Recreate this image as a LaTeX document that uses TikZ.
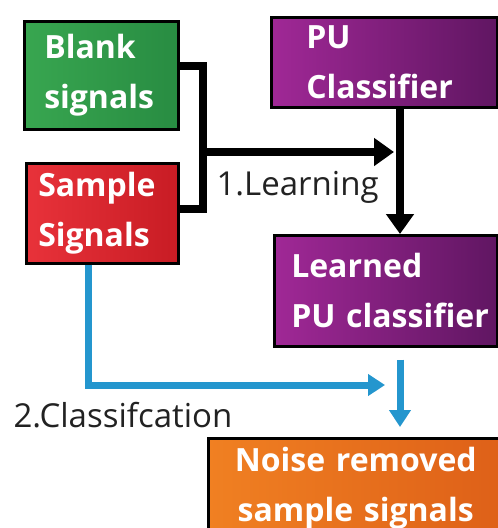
\documentclass[tikz,border=0pt]{standalone}
\usepackage{fontspec}
\setmainfont{Open Sans}
\usetikzlibrary{arrows.meta}
\definecolor{blankgreenl}{RGB}{56,166,80}
\definecolor{blankgreenr}{RGB}{40,140,66}
\definecolor{sampleredl}{RGB}{232,50,58}
\definecolor{sampleredr}{RGB}{200,28,36}
\definecolor{pupurplel}{RGB}{160,40,150}
\definecolor{pupurpler}{RGB}{96,22,98}
\definecolor{noiseorangel}{RGB}{240,128,34}
\definecolor{noiseoranger}{RGB}{222,96,24}
\definecolor{classblue}{RGB}{36,150,206}
\definecolor{labelgray}{RGB}{34,34,34}
\begin{document}
\begin{tikzpicture}[x=1pt,y=-1pt,
  box/.style={draw=black,line width=2.5pt,anchor=north west,align=left,text=white,
    font=\bfseries\fontsize{32}{50}\selectfont,inner ysep=0pt},
  bigarrow/.style={line width=8pt,-{Triangle[length=20pt,width=27pt]}},
  bluearrow/.style={draw=classblue,line width=7pt,-{Triangle[length=17pt,width=21pt]}},
  steplabel/.style={font=\fontsize{33}{36}\selectfont,text=labelgray,anchor=base west}]
\useasboundingbox[fill=white] (0,0) rectangle (498,528);
\node[box,left color=blankgreenl,right color=blankgreenr,text width=114pt,inner xsep=20pt,minimum height=108pt] (blank) at (23,20) {\mbox{Blank}\\\mbox{signals}};
\node[box,left color=sampleredl,right color=sampleredr,text width=128pt,inner xsep=12pt,minimum height=100pt] (sample) at (25,162) {\mbox{Sample}\\\mbox{Signals}};
\node[box,left color=pupurplel,right color=pupurpler,text width=156pt,inner xsep=35pt,minimum height=90pt] (pu) at (270,16) {PU\\\mbox{Classifier}};
\node[box,left color=pupurplel,right color=pupurpler,text width=189pt,inner xsep=17pt,minimum height=111pt] (learned) at (273,234) {\mbox{Learned}\\\mbox{PU classifier}};
\node[box,left color=noiseorangel,right color=noiseoranger,text width=285pt,inner xsep=5pt,minimum height=100pt,align=center] (noise) at (207,437) {\mbox{Noise removed}\\\mbox{sample signals}};
\coordinate (join) at (203,152);
\coordinate (lhead) at (394,152);
\coordinate (col) at (400,0);
\coordinate (bluecol) at (88,0);
\coordinate (chead) at (385,385);
\draw[line width=8pt] ([yshift=9pt]blank.east) -| (join) |- ([yshift=4pt]sample.east);
\draw[bigarrow] (join) -- (lhead);
\draw[bigarrow] (pu.south -| col) -- (learned.north -| col);
\draw[bluearrow] (sample.south -| bluecol) |- (chead);
\draw[bluearrow,shorten <=12pt,shorten >=10pt] (learned.south -| col) -- (noise.north -| col);
\node[steplabel] (learnlbl) at (213,195) {1.Learning};
\node[steplabel] (classlbl) at (10,427) {2.Classifcation};
\end{tikzpicture}
\end{document}
